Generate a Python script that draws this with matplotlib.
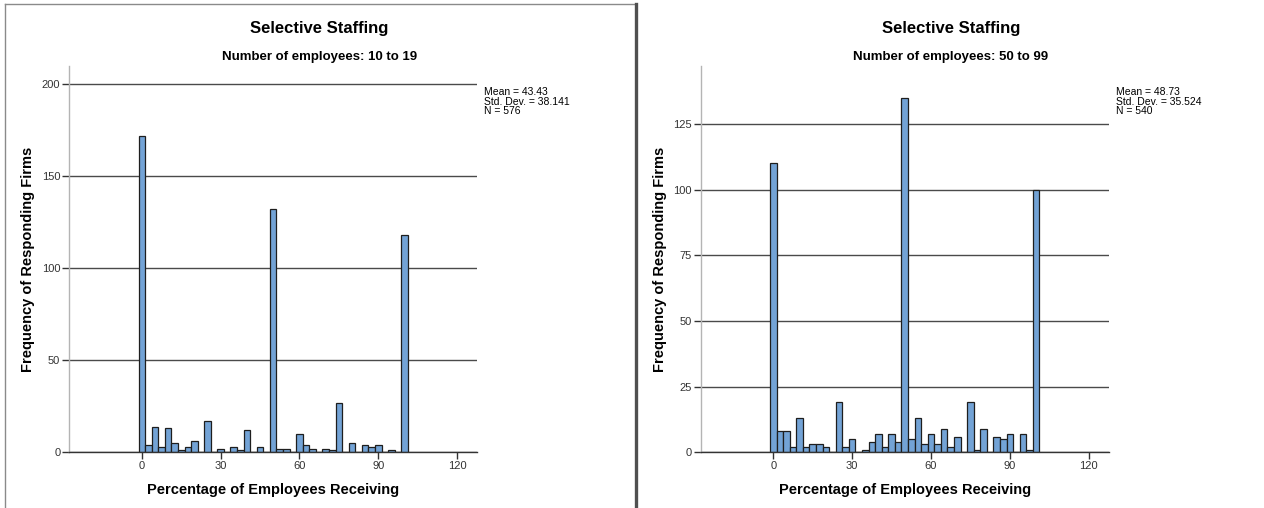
import matplotlib
matplotlib.use("Agg")
import matplotlib.pyplot as plt
from matplotlib.lines import Line2D

plt.rcParams['font.family'] = ['Liberation Sans', 'DejaVu Sans']

# Percentage bins (2.5-point wide) on the x axis
pct_bins = [0, 2.5, 5, 7.5, 10, 12.5, 15, 17.5, 20, 22.5, 25, 27.5, 30, 32.5,
            35, 37.5, 40, 42.5, 45, 47.5, 50, 52.5, 55, 57.5, 60, 62.5, 65,
            67.5, 70, 72.5, 75, 77.5, 80, 82.5, 85, 87.5, 90, 92.5, 95, 97.5, 100]

# Firm counts, 10 to 19 employees
counts_10_19 = [172, 4, 14, 3, 13, 5, 1, 3, 6, 0, 17, 0, 2, 0, 3, 1, 12, 0, 3, 0,
                132, 2, 2, 0, 10, 4, 2, 0, 2, 1, 27, 0, 5, 0, 4, 3, 4, 0, 1, 0, 118]

# Firm counts, 50 to 99 employees
counts_50_99 = [110, 8, 8, 2, 13, 2, 3, 3, 2, 0, 19, 2, 5, 0, 1, 4, 7, 2, 7, 4,
                135, 5, 13, 3, 7, 3, 9, 2, 6, 0, 19, 1, 9, 0, 6, 5, 7, 0, 7, 1, 100]

panel_subtitles = ["Number of employees: 10 to 19", "Number of employees: 50 to 99"]
panel_stats = ["Mean = 43.43\nStd. Dev. = 38.141\nN = 576",
               "Mean = 48.73\nStd. Dev. = 35.524\nN = 540"]
y_ticks = [[0, 50, 100, 150, 200], [0, 25, 50, 75, 100, 125]]
y_tops = [210.1, 147.2]
x_ticks = [0, 30, 60, 90, 120]

W, H = 1264, 508
fig = plt.figure(figsize=(W / 100, H / 100), dpi=100)

BAR_FILL = '#73a3d6'
GRID = '#4a4a4a'

def px_box(x0, x1, ytop, ybot):
    return [x0 / W, 1 - ybot / H, (x1 - x0) / W, (ybot - ytop) / H]

axes_boxes = [px_box(69.3, 477.3, 65.7, 452.3), px_box(700.7, 1109.0, 65.7, 452.3)]
title_centers = [319.5, 951.0]

for i, counts in enumerate([counts_10_19, counts_50_99]):
    ax = fig.add_axes(axes_boxes[i])
    ax.set_axisbelow(True)
    ax.bar(pct_bins, counts, width=2.5, color=BAR_FILL, edgecolor='#1e1e1e',
           linewidth=0.9, zorder=3)
    ax.set_xlim(-27.6, 127.7)
    ax.set_ylim(0, y_tops[i])
    ax.set_xticks(x_ticks)
    ax.set_yticks(y_ticks[i])
    ax.yaxis.grid(True, color=GRID, linewidth=1.0)
    ax.xaxis.grid(False)
    for s in ['top', 'right']:
        ax.spines[s].set_visible(False)
    ax.spines['left'].set_color('#b4b4b4')
    ax.spines['left'].set_linewidth(1.0)
    ax.spines['bottom'].set_color('#333333')
    ax.spines['bottom'].set_linewidth(1.0)
    ax.spines['bottom'].set_zorder(4)
    ax.tick_params(axis='both', direction='out', length=5, width=1.0,
                   color='#333333', labelsize=8, labelcolor='#333333', pad=1.5)
    ax.set_ylabel("Frequency of Responding Firms", fontsize=10.5,
                  fontweight='bold', color='black', va='center')
    ax.yaxis.set_label_coords(-0.1, 0.5)
    ax.set_xlabel("Percentage of Employees Receiving", fontsize=10.5,
                  fontweight='bold', color='black', va='center')
    ax.xaxis.set_label_coords(0.5, -0.0975)
    ax.text(1.016, 0.945, panel_stats[i], transform=ax.transAxes, fontsize=7.5,
            va='top', ha='left', linespacing=0.95, color='black')

    fig.text(title_centers[i] / W, 1 - 28 / H, "Selective Staffing",
             fontsize=12, fontweight='bold', ha='center', va='center')
    fig.text(title_centers[i] / W, 1 - 57 / H, panel_subtitles[i],
             fontsize=9.5, fontweight='bold', ha='center', va='center')

# Panel frame and separator
fig.add_artist(Line2D([4.5 / W, 4.5 / W], [0, 1 - 3.5 / H], color='#8a8a8a',
                      linewidth=1.0, transform=fig.transFigure))
fig.add_artist(Line2D([4.5 / W, 635.5 / W], [1 - 3.5 / H, 1 - 3.5 / H],
                      color='#8a8a8a', linewidth=1.0, transform=fig.transFigure))
fig.add_artist(Line2D([635.5 / W, 635.5 / W], [0, 1 - 3.5 / H], color='#505050',
                      linewidth=2.4, transform=fig.transFigure))

fig.savefig("out.png", dpi=100, facecolor='white')
